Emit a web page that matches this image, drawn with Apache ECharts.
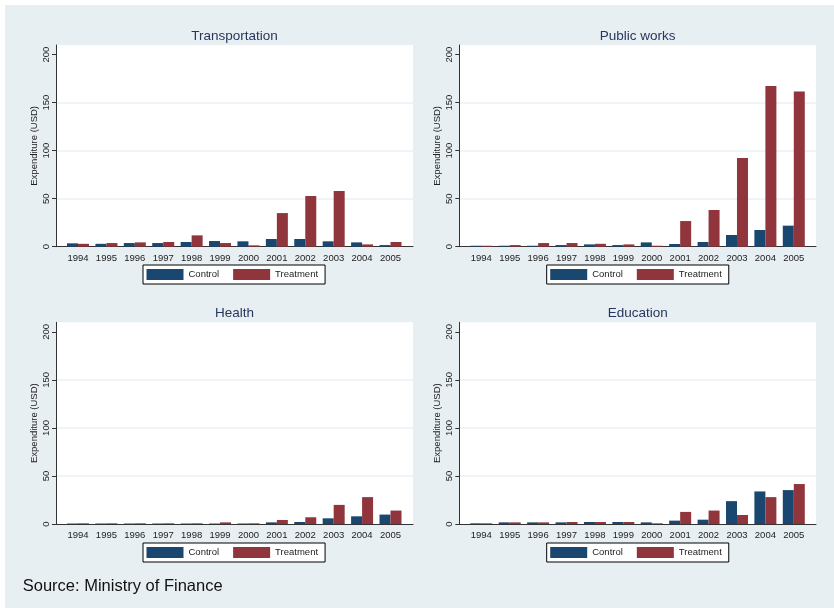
<!DOCTYPE html>
<html>
<head>
<meta charset="utf-8">
<script src="https://cdn.jsdelivr.net/npm/echarts@6/dist/echarts.min.js"></script>
<style>
  html, body { margin: 0; padding: 0; background: #ffffff; }
  #chart { width: 834px; height: 608px; }
</style>
</head>
<body>
<div id="chart"></div>
<script>
// Categories and tick values
const years = ['1994', '1995', '1996', '1997', '1998', '1999', '2000', '2001', '2002', '2003', '2004', '2005'];
const yTicks = [0, 50, 100, 150, 200];
const gridValues = [50, 100, 150];
const yMax = 210;

// Expenditure (USD) by sector
const transportControl   = [3.5, 3.0, 3.8, 3.8, 4.9, 5.9, 5.6, 8.0, 8.0, 5.6, 4.5, 1.7];
const transportTreatment = [3.0, 3.8, 4.5, 4.9, 11.8, 3.8, 1.4, 35.0, 52.8, 58.0, 2.4, 4.9];
const publicControl      = [1.0, 1.0, 1.0, 1.7, 2.4, 1.7, 4.5, 2.8, 4.9, 12.2, 17.4, 21.9];
const publicTreatment    = [1.0, 1.7, 3.8, 3.8, 3.0, 2.4, 1.0, 26.7, 38.2, 92.4, 167.4, 161.5];
const healthControl      = [0.5, 0.5, 0.5, 0.5, 0.5, 0.5, 0.5, 1.7, 2.1, 5.9, 8.0, 9.8];
const healthTreatment    = [0.7, 0.7, 0.7, 0.7, 0.7, 1.7, 0.7, 4.2, 7.0, 19.9, 28.0, 14.0];
const educationControl   = [0.7, 1.7, 1.7, 1.7, 2.1, 2.1, 1.7, 3.5, 4.5, 23.8, 33.9, 35.3];
const educationTreatment = [0.7, 1.7, 1.7, 2.1, 2.1, 2.1, 0.7, 12.6, 14.0, 9.4, 28.0, 41.6];

const seriesNames = ['Control', 'Treatment'];
const colors = { Control: '#1a476f', Treatment: '#90353b' };

// Panel layout: plot frame, bar band area, title and legend placement
const panels = [
  { title: 'Transportation', control: transportControl, treatment: transportTreatment,
    left: 56, right: 413, top: 45, bottom: 246.7, barLeft: 63.8, barRight: 404.7, titleY: 36, legendLeft: 143, legendTop: 265 },
  { title: 'Public works', control: publicControl, treatment: publicTreatment,
    left: 459.3, right: 816, top: 45, bottom: 246.7, barLeft: 467.1, barRight: 808, titleY: 36, legendLeft: 546.7, legendTop: 265 },
  { title: 'Health', control: healthControl, treatment: healthTreatment,
    left: 56, right: 413, top: 322.3, bottom: 524, barLeft: 63.8, barRight: 404.7, titleY: 313, legendLeft: 143, legendTop: 543 },
  { title: 'Education', control: educationControl, treatment: educationTreatment,
    left: 459.3, right: 816, top: 322.3, bottom: 524, barLeft: 467.1, barRight: 808, titleY: 313, legendLeft: 546.7, legendTop: 543 }
];

const font = 'Liberation Sans, Arial, sans-serif';
const textColor = '#222222';
const axisColor = '#333333';

const option = {
  animation: false,
  backgroundColor: '#ffffff',
  textStyle: { fontFamily: font },
  title: [],
  legend: [],
  grid: [],
  xAxis: [],
  yAxis: [],
  series: [],
  graphic: [
    {
      type: 'rect', z: -100, silent: true,
      shape: { x: 5, y: 5, width: 829, height: 603 },
      style: { fill: '#e8eff2' }
    },
    {
      type: 'text', left: 22.7, top: 578, silent: true,
      style: { text: 'Source: Ministry of Finance', fontSize: 16.5, fontFamily: font, fill: '#111111' }
    }
  ]
};

panels.forEach((p, i) => {
  const frameIdx = option.grid.length;
  const barIdx = frameIdx + 1;
  const h = p.bottom - p.top;

  // Frame grid: white plot region, y axis, baseline
  option.grid.push({
    left: p.left, top: p.top, width: p.right - p.left, height: h,
    show: true, backgroundColor: '#ffffff', borderWidth: 0, containLabel: false
  });
  // Bar grid: category bands inset within the frame
  option.grid.push({
    left: p.barLeft, top: p.top, width: p.barRight - p.barLeft, height: h,
    show: false, containLabel: false
  });

  option.xAxis.push({
    gridIndex: frameIdx, type: 'value', min: 0, max: 1,
    axisLine: { show: true, onZero: false, lineStyle: { color: axisColor, width: 1 } },
    axisTick: { show: false }, axisLabel: { show: false }, splitLine: { show: false }
  });
  option.xAxis.push({
    gridIndex: barIdx, type: 'category', data: years, boundaryGap: true,
    axisLine: { show: false }, axisTick: { show: false },
    axisLabel: { color: textColor, fontSize: 9.5, fontFamily: font, margin: 6.5, interval: 0 },
    splitLine: { show: false }
  });

  option.yAxis.push({
    gridIndex: frameIdx, type: 'value', min: 0, max: yMax, interval: 50,
    name: 'Expenditure (USD)', nameLocation: 'middle', nameGap: 17,
    nameTextStyle: { color: textColor, fontSize: 9.5, fontFamily: font },
    axisLine: { show: true, lineStyle: { color: axisColor, width: 1 } },
    axisTick: { show: true, length: 4, lineStyle: { color: axisColor }, customValues: yTicks },
    axisLabel: { show: true, rotate: 90, color: textColor, fontSize: 9.5, fontFamily: font, margin: 5, customValues: yTicks },
    splitLine: { show: false }
  });
  option.yAxis.push({
    gridIndex: barIdx, type: 'value', min: 0, max: yMax, show: false, splitLine: { show: false }
  });

  const frameAxis = option.xAxis.length - 2;
  const barAxis = option.xAxis.length - 1;

  // Horizontal reference lines across the plot region, kept beneath the bars
  option.series.push({
    type: 'line', name: 'gridlines', silent: true, z: 0,
    xAxisIndex: frameAxis, yAxisIndex: frameAxis,
    data: [[0, 0]], symbol: 'none', lineStyle: { opacity: 0 },
    markLine: {
      silent: true, symbol: 'none', label: { show: false }, z: 0,
      lineStyle: { color: '#eaf1f3', width: 1.5, type: 'solid' },
      data: gridValues.map(v => ({ yAxis: v }))
    }
  });

  option.series.push({
    type: 'bar', name: 'Control', xAxisIndex: barAxis, yAxisIndex: barAxis, z: 5,
    data: p.control, barWidth: 11, barGap: '0%',
    itemStyle: { color: colors.Control }
  });
  option.series.push({
    type: 'bar', name: 'Treatment', xAxisIndex: barAxis, yAxisIndex: barAxis, z: 5,
    data: p.treatment, barWidth: 11, barGap: '0%',
    itemStyle: { color: colors.Treatment }
  });

  option.title.push({
    text: p.title, left: (p.left + p.right) / 2, top: p.titleY - 6.5, textAlign: 'center',
    padding: 0,
    textStyle: { color: '#27365e', fontSize: 13.5, fontWeight: 'normal', fontFamily: font }
  });

  option.legend.push({
    data: seriesNames, left: p.legendLeft, top: p.legendTop, orient: 'horizontal',
    padding: [4, 7, 4, 3.5], itemWidth: 37, itemHeight: 11, itemGap: 14,
    icon: 'rect', selectedMode: false,
    borderColor: '#000000', borderWidth: 1, backgroundColor: '#ffffff',
    textStyle: { color: textColor, fontSize: 9.5, fontFamily: font }
  });
});

const chart = echarts.init(document.getElementById('chart'), null, { renderer: 'canvas' });
chart.setOption(option);
</script>
</body>
</html>
